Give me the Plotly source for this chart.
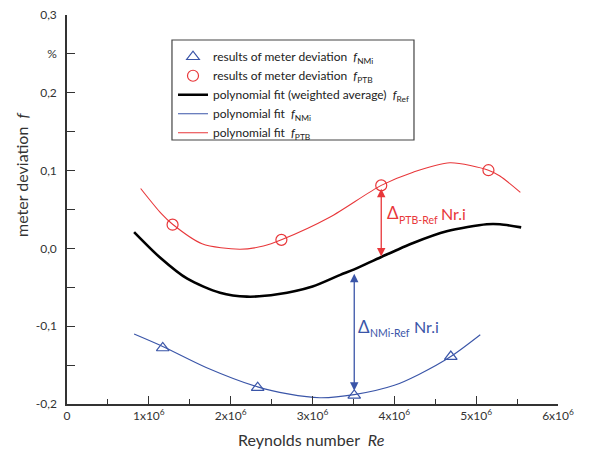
import plotly.graph_objects as go

# ---- data ----
nmi_re = [1.17e6, 2.33e6, 3.51e6, 4.69e6]
nmi_f = [-0.128, -0.179, -0.189, -0.139]

ptb_re = [1.29e6, 2.62e6, 3.84e6, 5.15e6]
ptb_f = [0.0305, 0.011, 0.081, 0.1005]

ref_re = [0.82e6, 1.14e6, 1.47e6, 1.87e6, 2.20e6, 2.57e6, 3.00e6, 3.34e6, 3.51e6, 3.84e6,
          4.23e6, 4.64e6, 5.13e6, 5.29e6, 5.55e6]
ref_f = [0.021, -0.012, -0.039, -0.057, -0.062, -0.059, -0.049, -0.034, -0.027, -0.011,
         0.007, 0.022, 0.031, 0.031, 0.027]

fit_nmi_re = [0.82e6, 1.17e6, 1.70e6, 2.33e6, 2.70e6, 3.09e6, 3.51e6, 4.00e6, 4.30e6, 4.69e6, 5.05e6]
fit_nmi_f = [-0.110, -0.126, -0.153, -0.178, -0.187, -0.192, -0.188, -0.176, -0.162, -0.139, -0.111]

fit_ptb_re = [0.90e6, 1.15e6, 1.29e6, 1.65e6, 2.11e6, 2.40e6, 2.62e6, 3.21e6, 3.84e6, 4.23e6,
              4.68e6, 5.15e6, 5.29e6, 5.54e6]
fit_ptb_f = [0.077, 0.045, 0.031, 0.006, -0.001, 0.003, 0.011, 0.040, 0.081, 0.098,
             0.110, 0.1005, 0.093, 0.072]

# arrows (Delta between fits)
arrow_ptb_re = 3.84e6
arrow_ptb_f = [0.0786, -0.0103]
arrow_nmi_re = 3.51e6
arrow_nmi_f = [-0.0306, -0.183]

x_tickvals = [0, 1e6, 2e6, 3e6, 4e6, 5e6, 6e6]
x_ticktext = ["0", "1x10<sup>6</sup>", "2x10<sup>6</sup>", "3x10<sup>6</sup>",
              "4x10<sup>6</sup>", "5x10<sup>6</sup>", "6x10<sup>6</sup>"]
y_tickvals = [-0.2, -0.15, -0.1, -0.05, 0.0, 0.05, 0.1, 0.15, 0.2, 0.25, 0.3]
y_ticktext = ["-0,2", "", "-0,1", "", "0,0", "", "0,1", "", "0,2", "%", "0,3"]

RED = "#e8373a"
BLUE = "#3a55a8"
FONT = "Lato"

fig = go.Figure()
fig.add_trace(go.Scatter(x=nmi_re, y=nmi_f, mode="markers", cliponaxis=False,
                         marker=dict(symbol="triangle-up-open", size=11, color=BLUE, line=dict(width=1.2)),
                         name="results of meter deviation  <i>f</i><sub>NMi</sub>"))
fig.add_trace(go.Scatter(x=ptb_re, y=ptb_f, mode="markers", cliponaxis=False,
                         marker=dict(symbol="circle-open", size=11, color=RED, line=dict(width=1.2)),
                         name="results of meter deviation  <i>f</i><sub>PTB</sub>"))
fig.add_trace(go.Scatter(x=ref_re, y=ref_f, mode="lines", line=dict(color="black", width=2.6, shape="spline", smoothing=0.8),
                         name="polynomial fit (weighted average)  <i>f</i><sub>Ref</sub>"))
fig.add_trace(go.Scatter(x=fit_nmi_re, y=fit_nmi_f, mode="lines", line=dict(color=BLUE, width=1.1, shape="spline", smoothing=0.8),
                         name="polynomial fit  <i>f</i><sub>NMi</sub>"))
fig.add_trace(go.Scatter(x=fit_ptb_re, y=fit_ptb_f, mode="lines", line=dict(color=RED, width=1.1, shape="spline", smoothing=0.8),
                         name="polynomial fit  <i>f</i><sub>PTB</sub>"))

ann = []
for xr, fy, col in [(arrow_ptb_re, arrow_ptb_f, RED), (arrow_nmi_re, arrow_nmi_f, BLUE)]:
    ann.append(dict(x=xr, y=fy[1], ax=xr, ay=fy[0], xref="x", yref="y", axref="x", ayref="y",
                    text="", showarrow=True, arrowhead=2, arrowside="end+start", arrowsize=1.3,
                    arrowwidth=1.3, arrowcolor=col, standoff=0, startstandoff=0))


def label(x, y, text, size, color, anchor="left"):
    return dict(x=x, y=y, xref="x", yref="y", text=text, showarrow=False,
                xanchor=anchor, yanchor="middle", font=dict(family=FONT, size=size, color=color))


ann += [
    label(3.88e6, 0.046, "Δ", 17, RED),
    label(4.03e6, 0.037, "PTB-Ref", 10.5, RED),
    label(4.54e6, 0.045, "Nr.i", 16, RED),
    label(3.53e6, -0.100, "Δ", 17, BLUE),
    label(3.68e6, -0.109, "NMi-Ref", 10.5, BLUE),
    label(4.22e6, -0.101, "Nr.i", 16, BLUE),
    # axis titles
    dict(x=-0.094, y=0.591, xref="paper", yref="paper", text="meter deviation  <i>f</i>",
         textangle=-90, showarrow=False, xanchor="center", yanchor="middle",
         font=dict(family=FONT, size=16, color="#333333")),
    dict(x=0.497, y=-0.0925, xref="paper", yref="paper", text="Reynolds number  <i>Re</i>",
         showarrow=False, xanchor="center", yanchor="middle",
         font=dict(family=FONT, size=16, color="#333333")),
]

fig.update_layout(
    width=602, height=459,
    margin=dict(l=59, r=52, t=7, b=63, autoexpand=False),
    paper_bgcolor="white", plot_bgcolor="white",
    font=dict(family=FONT, size=12, color="#333333"),
    showlegend=True,
    legend=dict(x=0.2159, y=0.930, xanchor="left", yanchor="top", bgcolor="rgba(0,0,0,0)",
                borderwidth=0, font=dict(family=FONT, size=12, color="#222222"),
                tracegroupgap=0, itemwidth=30),
    annotations=ann,
    shapes=[dict(type="rect", xref="paper", yref="paper", x0=0.2138, x1=0.7067, y0=0.6786, y1=0.9357,
                 line=dict(color="#444444", width=1.2), fillcolor="rgba(0,0,0,0)")],
    xaxis=dict(range=[0, 6e6], tickvals=x_tickvals, ticktext=x_ticktext, ticks="inside", ticklen=8,
               tickwidth=1.3, tickcolor="#333333", showline=True, linecolor="#333333", linewidth=1.5,
               showgrid=False, zeroline=False, tickfont=dict(size=12), automargin=False,
               ticklabeloverflow="allow",
               minor=dict(dtick=0.5e6, tick0=0, ticks="inside", ticklen=5, tickwidth=1.3, tickcolor="#333333", showgrid=False)),
    yaxis=dict(range=[-0.2, 0.3], tickvals=y_tickvals, ticktext=y_ticktext, ticks="inside", ticklen=8,
               tickwidth=1.3, tickcolor="#333333", showline=True, linecolor="#333333", linewidth=1.5,
               showgrid=False, zeroline=False, tickfont=dict(size=12), ticklabelstandoff=6, automargin=False,
               ticklabeloverflow="allow"),
)

fig.write_html("out.html")
